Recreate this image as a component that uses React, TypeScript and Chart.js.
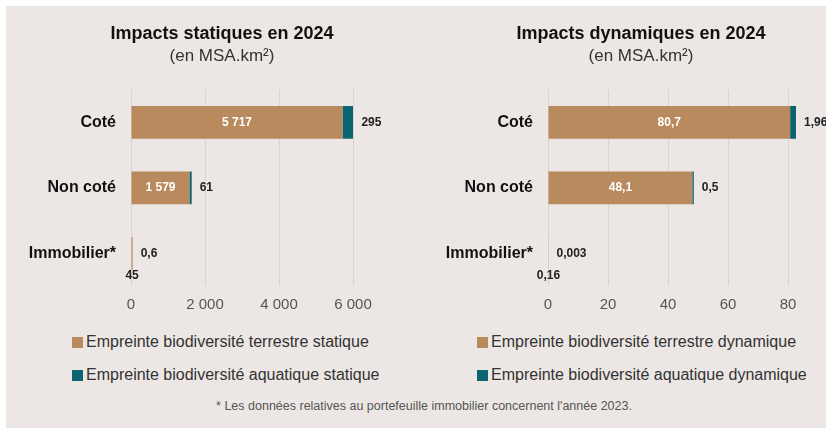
import { useEffect, useRef } from 'react';
import { Chart, registerables } from 'chart.js';

Chart.register(...registerables);

const categories = ['Coté', 'Non coté', 'Immobilier*'];
const staticTerrestre = [5717, 1579, 45];
const staticAquatique = [295, 61, 0.6];
const dynamicTerrestre = [80.7, 48.1, 0.16];
const dynamicAquatique = [1.96, 0.5, 0.003];

const staticTitle = 'Impacts statiques en 2024';
const dynamicTitle = 'Impacts dynamiques en 2024';
const unitSubtitle = '(en MSA.km²)';
const staticLegend = ['Empreinte biodiversité terrestre statique', 'Empreinte biodiversité aquatique statique'];
const dynamicLegend = ['Empreinte biodiversité terrestre dynamique', 'Empreinte biodiversité aquatique dynamique'];
const footnote = "* Les données relatives au portefeuille immobilier concernent l'année 2023.";

const staticAxisMax = 6000;
const staticStep = 2000;
const dynamicAxisMax = 84;
const dynamicStep = 20;

const TERRESTRE = '#ba8a5f';
const AQUATIQUE = '#0b6570';
const BG = '#ece7e4';
const GRID = '#d9d4d1';
const FONT = "'Liberation Sans', Arial, Helvetica, sans-serif";

const fmt = (v: number) =>
  v.toLocaleString('fr-FR', { maximumFractionDigits: 3 }).replace(/[\u202f\u00a0]/g, ' ');

const labelPlugin = {
  id: 'barLabels',
  afterDatasetsDraw(chart: any) {
    const ctx = chart.ctx;
    const m0 = chart.getDatasetMeta(0);
    const m1 = chart.getDatasetMeta(1);
    const d0 = chart.data.datasets[0].data as number[];
    const d1 = chart.data.datasets[1].data as number[];
    ctx.save();
    ctx.font = `bold 12px ${FONT}`;
    m0.data.forEach((bar: any, i: number) => {
      const p = bar.getProps(['x', 'y', 'base', 'height'], true);
      const txt = fmt(d0[i]);
      const w = Math.abs(p.x - p.base);
      const tw = ctx.measureText(txt).width;
      ctx.textBaseline = 'middle';
      ctx.textAlign = 'center';
      if (w > tw + 8) {
        ctx.fillStyle = '#ffffff';
        ctx.fillText(txt, (p.x + p.base) / 2, p.y);
      } else {
        ctx.fillStyle = '#222222';
        ctx.fillText(txt, (p.x + p.base) / 2, p.y + p.height / 2 + 6);
      }
    });
    m1.data.forEach((bar: any, i: number) => {
      const p = bar.getProps(['x', 'y'], true);
      ctx.fillStyle = '#222222';
      ctx.textAlign = 'left';
      ctx.textBaseline = 'middle';
      ctx.fillText(fmt(d1[i]), p.x + 8, p.y);
    });
    ctx.restore();
  },
};

// Let the category labels use the space of the layout padding (no clipping at the axis box)
const unclipYLabels = {
  id: 'unclipYLabels',
  afterLayout(chart: any) {
    const s = chart.scales.y;
    if (s) s.left = 0;
  },
};

type PanelProps = {
  left: number;
  width: number;
  padLeft: number;
  axisWidth: number;
  padRight: number;
  title: string;
  terrestre: number[];
  aquatique: number[];
  legend: string[];
  max: number;
  step: number;
};

const CANVAS_H = 324;

function Panel(props: PanelProps) {
  const ref = useRef<HTMLCanvasElement | null>(null);
  useEffect(() => {
    if (!ref.current) return;
    const chart = new Chart(ref.current, {
      type: 'bar',
      data: {
        labels: categories,
        datasets: [
          {
            label: props.legend[0],
            data: props.terrestre,
            backgroundColor: TERRESTRE,
            categoryPercentage: 1,
            barPercentage: 0.5,
          },
          {
            label: props.legend[1],
            data: props.aquatique,
            backgroundColor: AQUATIQUE,
            categoryPercentage: 1,
            barPercentage: 0.5,
          },
        ],
      },
      options: {
        indexAxis: 'y',
        responsive: false,
        animation: false,
        layout: { padding: { left: props.padLeft, right: props.padRight, top: 0, bottom: 0 } },
        plugins: {
          legend: { display: false },
          tooltip: { enabled: false },
          title: {
            display: true,
            text: props.title,
            color: '#111111',
            font: { family: FONT, size: 18, weight: 'bold', lineHeight: 1.2 },
            padding: { top: 23, bottom: 0 },
          },
          subtitle: {
            display: true,
            text: unitSubtitle,
            color: '#333333',
            font: { family: FONT, size: 17, weight: 'normal', lineHeight: 1.2 },
            padding: { top: 2, bottom: 22.5 },
          },
        },
        scales: {
          x: {
            stacked: true,
            min: 0,
            max: props.max,
            grid: { color: GRID, drawTicks: false, lineWidth: 1 },
            border: { display: false },
            ticks: {
              stepSize: props.step,
              includeBounds: false,
              padding: 10,
              color: '#555555',
              font: { family: FONT, size: 15 },
              callback: (v: any) => fmt(Number(v)),
            },
          },
          y: {
            stacked: true,
            grid: { display: false, drawTicks: false },
            border: { display: false },
            ticks: {
              padding: 15,
              color: '#111111',
              font: { family: FONT, size: 16, weight: 'bold' },
            },
            afterFit: (scale: any) => {
              scale.width = props.axisWidth;
            },
          },
        },
      },
      plugins: [labelPlugin, unclipYLabels],
    } as any);
    return () => chart.destroy();
  }, []);
  return (
    <canvas
      ref={ref}
      width={props.width}
      height={CANVAS_H}
      style={{ position: 'absolute', left: props.left, top: 0, width: props.width, height: CANVAS_H }}
    />
  );
}

function LegendItem({ x, y, color, text }: { x: number; y: number; color: string; text: string }) {
  return (
    <div
      style={{
        position: 'absolute',
        left: x,
        top: y,
        display: 'flex',
        alignItems: 'center',
        height: 20,
        fontFamily: FONT,
        fontSize: 16,
        color: '#333333',
        whiteSpace: 'nowrap',
      }}
    >
      <span style={{ display: 'inline-block', width: 11, height: 11, background: color, marginRight: 3 }} />
      <span>{text}</span>
    </div>
  );
}

export default function App() {
  return (
    <div style={{ position: 'absolute', left: 0, top: 0, width: 826, height: 428, background: '#ffffff', overflow: 'hidden' }}>
      <div style={{ position: 'absolute', left: 6, top: 6, width: 820, height: 422, background: BG }} />
      <Panel
        left={0}
        width={383}
        padLeft={91}
        axisWidth={40}
        padRight={30}
        title={staticTitle}
        terrestre={staticTerrestre}
        aquatique={staticAquatique}
        legend={staticLegend}
        max={staticAxisMax}
        step={staticStep}
      />
      <Panel
        left={430}
        width={396}
        padLeft={52}
        axisWidth={66}
        padRight={26}
        title={dynamicTitle}
        terrestre={dynamicTerrestre}
        aquatique={dynamicAquatique}
        legend={dynamicLegend}
        max={dynamicAxisMax}
        step={dynamicStep}
      />
      <LegendItem x={72} y={332} color={TERRESTRE} text={staticLegend[0]} />
      <LegendItem x={72} y={365} color={AQUATIQUE} text={staticLegend[1]} />
      <LegendItem x={477} y={332} color={TERRESTRE} text={dynamicLegend[0]} />
      <LegendItem x={477} y={365} color={AQUATIQUE} text={dynamicLegend[1]} />
      <div
        style={{
          position: 'absolute',
          left: 0,
          width: 848,
          top: 399,
          textAlign: 'center',
          fontFamily: FONT,
          fontSize: 12.5,
          color: '#555555',
          whiteSpace: 'nowrap',
        }}
      >
        {footnote}
      </div>
    </div>
  );
}
